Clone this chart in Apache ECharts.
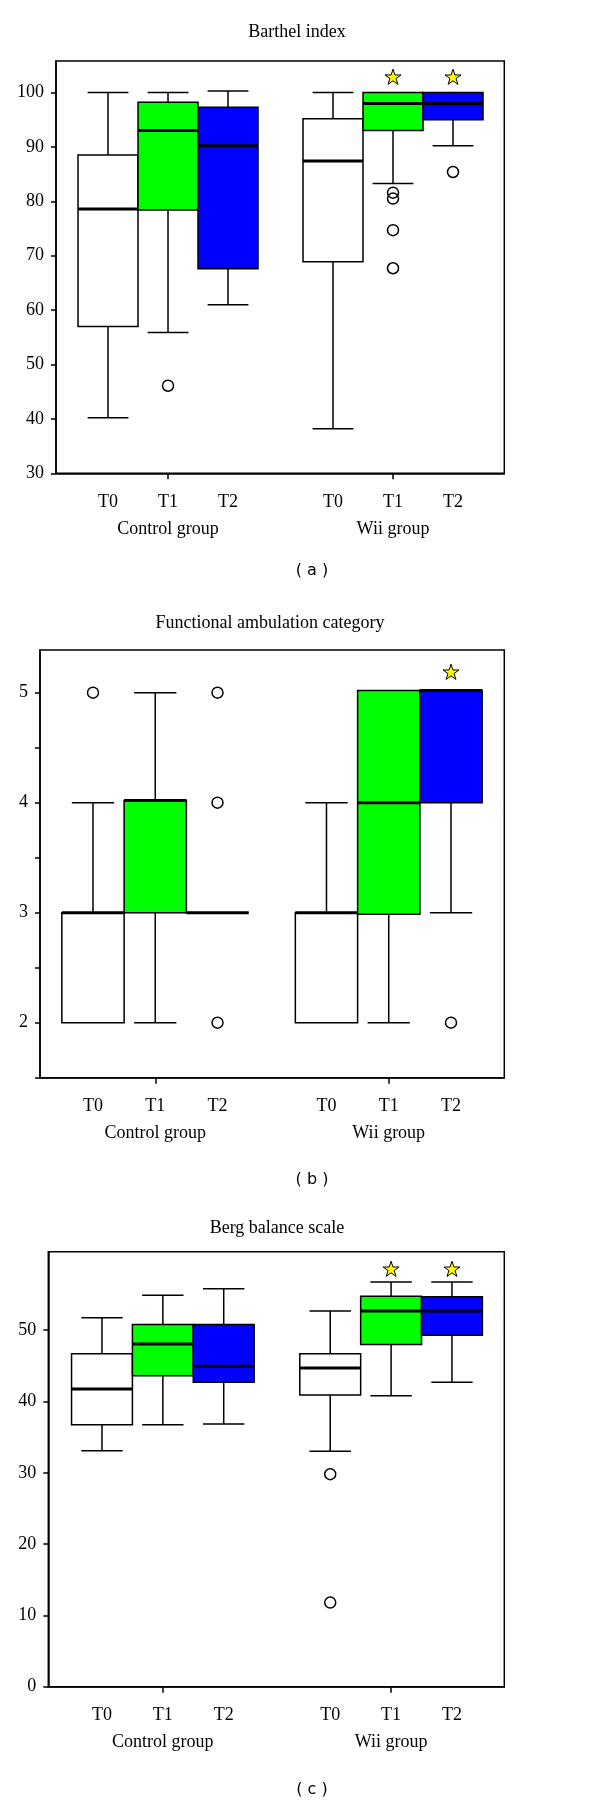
<!DOCTYPE html>
<html>
<head>
<meta charset="utf-8">
<script src="https://cdn.jsdelivr.net/npm/echarts@6/dist/echarts.min.js"></script>
<style>
  html, body { margin: 0; padding: 0; background: #fff; }
  #chart { width: 600px; height: 1806px; }
</style>
</head>
<body>
<div id="chart"></div>
<script>
// Shared x layout: three time points per group, small gap between the groups.
const timeLabels = ['T0', 'T1', 'T2', 'T0', 'T1', 'T2'];
const groupLabels = ['Control group', 'Wii group'];
const boxX = [1, 2, 3, 4.75, 5.75, 6.75];
const groupX = [2, 5.75];
const boxColors = ['#ffffff', '#00ff00', '#0000ff', '#ffffff', '#00ff00', '#0000ff'];

const panelTitles = ['Barthel index', 'Functional ambulation category', 'Berg balance scale'];
const panelTags = ['( a )', '( b )', '( c )'];

// Each box: [min, Q1, median, Q3, max]
const barthelBoxes = [
  [40.2, 57.0, 78.6, 88.5, 100],
  [55.9, 78.4, 93.0, 98.2, 100],
  [61.0, 67.6, 90.2, 97.3, 100.3],
  [38.2, 68.9, 87.4, 95.2, 100],
  [83.3, 93.0, 98.0, 100, 100],
  [90.2, 95.0, 98.0, 100, 100],
];
// [box index, value]
const barthelOutliers = [[1, 46.1], [4, 81.6], [4, 80.5], [4, 74.7], [4, 67.7], [5, 85.4]];
const barthelStars = [[4, 102.9], [5, 102.9]];

const facBoxes = [
  [2, 2, 3, 3, 4],
  [2, 3, 4.02, 4.02, 5],
  [3, 3, 3, 3, 3],
  [2, 2, 3, 3, 4],
  [2, 2.985, 4.0, 5.02, 5.02],
  [3, 4.0, 5.02, 5.02, 5.02],
];
const facOutliers = [[0, 5], [2, 5], [2, 4], [2, 2], [5, 2]];
const facStars = [[5, 5.19]];

const bergBoxes = [
  [33.1, 36.75, 41.75, 46.7, 51.75],
  [36.75, 43.6, 48.05, 50.8, 54.9],
  [36.85, 42.7, 44.95, 50.8, 55.8],
  [33.0, 40.9, 44.7, 46.7, 52.7],
  [40.8, 48.0, 52.7, 54.75, 56.75],
  [42.7, 49.3, 52.7, 54.7, 56.75],
];
const bergOutliers = [[3, 29.8], [3, 11.8]];
const bergStars = [[4, 58.6], [5, 58.6]];

const yTicks = [
  [30, 40, 50, 60, 70, 80, 90, 100],
  [1.5, 2, 2.5, 3, 3.5, 4, 4.5, 5],
  [0, 10, 20, 30, 40, 50],
];
const yLabels = [
  [30, 40, 50, 60, 70, 80, 90, 100],
  [2, 3, 4, 5],
  [0, 10, 20, 30, 40, 50],
];

const SERIF = '"Liberation Serif", "Times New Roman", serif';
const STAR = 'path://M0,-1L0.2245,-0.309L0.951,-0.309L0.363,0.118L0.588,0.809L0,0.382L-0.588,0.809L-0.363,0.118L-0.951,-0.309L-0.2245,-0.309Z';

// Panel geometry (pixels / axis extents).
const panels = [
  { boxes: barthelBoxes, outliers: barthelOutliers, stars: barthelStars,
    grid: { left: 56, top: 61, width: 448.3, height: 412.3 },
    x: [0.133, 7.605], y: [30, 105.8], titleAt: [297, 32], tagAt: [312, 571] },
  { boxes: facBoxes, outliers: facOutliers, stars: facStars,
    grid: { left: 40, top: 650, width: 464.3, height: 427.7 },
    x: [0.149, 7.606], y: [1.5, 5.388], titleAt: [270, 623], tagAt: [312, 1180] },
  { boxes: bergBoxes, outliers: bergOutliers, stars: bergStars,
    grid: { left: 48.3, top: 1251.7, width: 456, height: 435 },
    x: [0.118, 7.61], y: [0, 61], titleAt: [277, 1228], tagAt: [312, 1790] },
];

function renderBox(params, api) {
  const x = api.value(0);
  const lo = api.value(1), q1 = api.value(2), med = api.value(3), q3 = api.value(4), hi = api.value(5);
  const w = api.size([1, 0])[0];
  const half = w / 2;
  const capHalf = w * 0.34;
  const cx = api.coord([x, q3])[0];
  const yQ3 = api.coord([x, q3])[1];
  const yQ1 = api.coord([x, q1])[1];
  const yMed = api.coord([x, med])[1];
  const yLo = api.coord([x, lo])[1];
  const yHi = api.coord([x, hi])[1];
  const thin = { stroke: '#000', lineWidth: 1.5 };
  const kids = [];
  if (hi > q3) {
    kids.push({ type: 'line', shape: { x1: cx, y1: yQ3, x2: cx, y2: yHi }, style: thin });
    kids.push({ type: 'line', shape: { x1: cx - capHalf, y1: yHi, x2: cx + capHalf, y2: yHi }, style: thin });
  }
  if (lo < q1) {
    kids.push({ type: 'line', shape: { x1: cx, y1: yQ1, x2: cx, y2: yLo }, style: thin });
    kids.push({ type: 'line', shape: { x1: cx - capHalf, y1: yLo, x2: cx + capHalf, y2: yLo }, style: thin });
  }
  kids.push({
    type: 'rect',
    shape: { x: cx - half, y: yQ3, width: w, height: yQ1 - yQ3 },
    style: { fill: boxColors[params.dataIndex % 6], stroke: '#000', lineWidth: 1.5 },
  });
  kids.push({ type: 'line', shape: { x1: cx - half, y1: yMed, x2: cx + half, y2: yMed }, style: { stroke: '#000', lineWidth: 3 } });
  return { type: 'group', children: kids };
}

function pick(values, labels) {
  return (v) => {
    const i = values.findIndex((b) => Math.abs(b - v) < 1e-6);
    return i >= 0 ? labels[i] : '';
  };
}

const axisLine = { show: true, onZero: false, lineStyle: { color: '#000', width: 1.5 } };
const labelFont = { color: '#000', fontFamily: SERIF, fontSize: 18, hideOverlap: false, showMinLabel: true, showMaxLabel: true };

const option = {
  animation: false,
  backgroundColor: '#fff',
  grid: panels.map((p) => ({
    ...p.grid,
    show: true,
    borderColor: '#000',
    borderWidth: 1.5,
    containLabel: false,
  })),
  xAxis: [
    // time-point axes (carry the series)
    ...panels.map((p, k) => ({
      type: 'value',
      gridIndex: k,
      min: p.x[0],
      max: p.x[1],
      axisLine,
      splitLine: { show: false },
      axisTick: { show: true, length: 6, lineStyle: { color: '#000', width: 1.5 }, customValues: groupX },
      axisLabel: { ...labelFont, customValues: boxX, formatter: pick(boxX, timeLabels), margin: 20 },
    })),
    // group-name axes, one line lower
    ...panels.map((p, k) => ({
      type: 'value',
      gridIndex: k,
      position: 'bottom',
      offset: 27.5,
      min: p.x[0],
      max: p.x[1],
      axisLine: { show: false },
      axisTick: { show: false },
      splitLine: { show: false },
      axisLabel: { ...labelFont, customValues: groupX, formatter: pick(groupX, groupLabels), margin: 19 },
    })),
  ],
  yAxis: panels.map((p, k) => ({
    type: 'value',
    gridIndex: k,
    min: p.y[0],
    max: p.y[1],
    axisLine,
    splitLine: { show: false },
    axisTick: { show: true, length: 5, lineStyle: { color: '#000', width: 1.5 }, customValues: yTicks[k] },
    axisLabel: { ...labelFont, customValues: yLabels[k], margin: 12 },
  })),
  series: panels.flatMap((p, k) => [
    {
      type: 'custom',
      xAxisIndex: k,
      yAxisIndex: k,
      renderItem: renderBox,
      encode: { x: 0, y: [1, 2, 3, 4, 5] },
      data: p.boxes.map((b, i) => [boxX[i], ...b]),
      z: 2,
      silent: true,
    },
    {
      type: 'scatter',
      xAxisIndex: k,
      yAxisIndex: k,
      symbol: 'circle',
      symbolSize: 11,
      data: p.outliers.map(([i, v]) => [boxX[i], v]),
      itemStyle: { color: 'rgba(0,0,0,0)', borderColor: '#000', borderWidth: 1.5, opacity: 1 },
      z: 3,
      silent: true,
    },
    {
      type: 'scatter',
      xAxisIndex: k,
      yAxisIndex: k,
      symbol: STAR,
      symbolKeepAspect: true,
      symbolSize: 16,
      data: p.stars.map(([i, v]) => [boxX[i], v]),
      itemStyle: { color: '#ffff00', borderColor: '#000', borderWidth: 1, opacity: 1 },
      z: 4,
      silent: true,
    },
  ]),
  graphic: panels.flatMap((p, k) => [
    {
      type: 'text',
      x: p.titleAt[0],
      y: p.titleAt[1],
      style: { text: panelTitles[k], font: '18px ' + SERIF, fill: '#000', align: 'center', verticalAlign: 'middle' },
    },
    {
      type: 'text',
      x: p.tagAt[0],
      y: p.tagAt[1],
      style: { text: panelTags[k], font: '16px "DejaVu Sans", Verdana, sans-serif', fill: '#000', align: 'center', verticalAlign: 'middle' },
    },
  ]),
};

const chart = echarts.init(document.getElementById('chart'), null, { renderer: 'canvas' });
chart.setOption(option);
</script>
</body>
</html>
